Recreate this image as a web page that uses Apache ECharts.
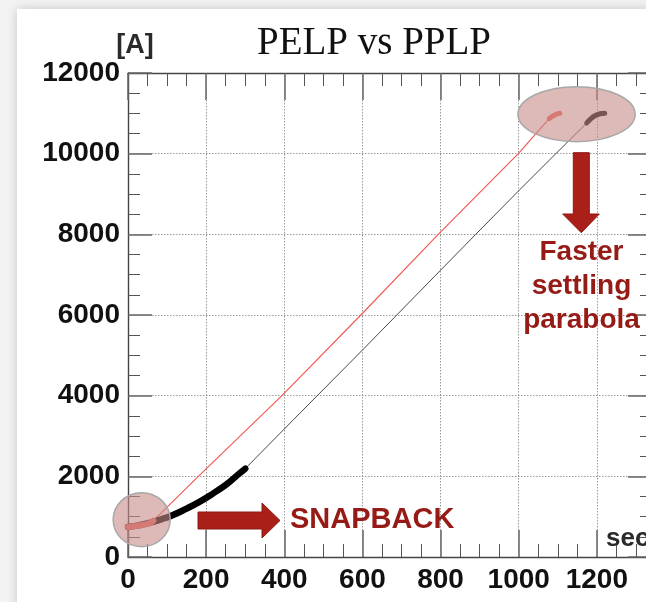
<!DOCTYPE html>
<html>
<head>
<meta charset="utf-8">
<script src="https://cdn.jsdelivr.net/npm/echarts@6/dist/echarts.min.js"></script>
<style>
html,body{margin:0;padding:0;background:#f3f3f3;}
#c{width:646px;height:602px;}
</style>
</head>
<body>
<div id="c"></div>
<script>
// ---- data (x = sec, y = A) ----
const xTicks = [0, 200, 400, 600, 800, 1000, 1200];
const yTicks = [0, 2000, 4000, 6000, 8000, 10000, 12000];

// PPLP (black): thick snapback curve, thin ramp, thick settling parabola
const blackStart = [[0,745],[30,790],[57,850],[85,935],[108,1010],[150,1200],[185,1380],[220,1590],[252,1800],[280,2030],[300,2190]];
const blackRamp  = [[300,2190],[423,3400],[600,5130],[800,7110],[890,8000],[1000,9080],[1094,9990],[1174,10760]];
const blackEnd   = [[1174,10760],[1185,10870],[1195,10940],[1208,10990],[1220,11005]];

// PELP (red): thick start, thin ramp, thick end
const redStart = [[0,745],[20,770],[40,800],[55,840],[65,900]];
const redRamp  = [[65,900],[180,2000],[394,4000],[596,6000],[794,8000],[999,10000],[1078,10870]];
const redEnd   = [[1078,10870],[1092,10960],[1105,11000]];

// annotation ellipses (data units: center x, center y, half-width, half-height)
const snapEllipse  = [35, 925, 73, 670];
const settleEllipse = [1148, 10979, 150, 682];

const FONT = '"Liberation Sans", Arial, Helvetica, sans-serif';
const chart = echarts.init(document.getElementById('c'), null, {renderer: 'canvas'});

const labelStyle = {fontSize: 28, fontWeight: 'bold', fontFamily: FONT, color: '#111'};
const majorTick = {color: '#666', width: 1.5};
const minorTickStyle = {color: '#555', width: 1};
const axisLineStyle = {color: '#444', width: 1.4};
const gridStyle = {type: [1.5, 1.5], color: '#9a9a9a', width: 1};

function line(data, color, width, smooth, z) {
  return {
    type: 'line', data: data, showSymbol: false, smooth: smooth, z: z,
    lineStyle: {color: color, width: width, cap: 'round', join: 'round'},
    silent: true, animation: false
  };
}

const option = {
  backgroundColor: '#f3f3f3',
  animation: false,
  grid: {left: 128, top: 73, right: -29, bottom: 45, containLabel: false, outerBoundsMode: 'none'},
  xAxis: [
    {
      type: 'value', position: 'bottom', min: 0, max: 1400, interval: 200,
      axisLine: {show: true, onZero: false, lineStyle: axisLineStyle},
      axisTick: {show: true, inside: true, length: 27, lineStyle: majorTick},
      minorTick: {show: true, splitNumber: 4, length: 13, lineStyle: minorTickStyle},
      splitLine: {show: true, lineStyle: gridStyle},
      axisLabel: Object.assign({margin: 9, lineHeight: 28,
        formatter: v => (xTicks.indexOf(v) >= 0 ? String(v) : '')}, labelStyle)
    },
    {
      type: 'value', position: 'top', min: 0, max: 1400, interval: 200,
      axisLine: {show: true, onZero: false, lineStyle: axisLineStyle},
      axisTick: {show: true, inside: true, length: 27, lineStyle: majorTick},
      minorTick: {show: true, splitNumber: 4, length: 13, lineStyle: minorTickStyle},
      splitLine: {show: false}, axisLabel: {show: false}
    }
  ],
  yAxis: [
    {
      type: 'value', position: 'left', min: 0, max: 12000, interval: 2000,
      axisLine: {show: true, onZero: false, lineStyle: axisLineStyle},
      axisTick: {show: true, inside: true, length: 24, lineStyle: majorTick},
      minorTick: {show: true, splitNumber: 4, length: 12, lineStyle: minorTickStyle},
      splitLine: {show: true, lineStyle: gridStyle},
      axisLabel: Object.assign({margin: 8,
        formatter: v => (yTicks.indexOf(v) >= 0 ? String(v) : '')}, labelStyle)
    },
    {
      type: 'value', position: 'right', offset: -23, min: 0, max: 12000, interval: 2000,
      axisLine: {show: true, onZero: false, lineStyle: axisLineStyle},
      axisTick: {show: true, inside: true, length: 24, lineStyle: majorTick},
      minorTick: {show: true, splitNumber: 4, length: 12, lineStyle: minorTickStyle},
      splitLine: {show: false}, axisLabel: {show: false}
    }
  ],
  series: [
    line(blackRamp, '#4a4a4a', 1, false, 2),
    line(redRamp, '#f2554f', 1.1, false, 3),
    line(blackStart, '#000', 6.5, true, 4),
    line(redStart, '#e8645c', 6, true, 5),
    line(blackEnd, '#000', 5, true, 4),
    line(redEnd, '#f0605a', 5, true, 5)
  ]
};
chart.setOption(option);

function px(x, y) { return chart.convertToPixel({xAxisIndex: 0, yAxisIndex: 0}, [x, y]); }
function ellipse(e) {
  const c = px(e[0], e[1]);
  const r = px(e[0] + e[2], e[1] + e[3]);
  return {
    type: 'ellipse', z: 100, silent: true,
    shape: {cx: c[0], cy: c[1], rx: Math.abs(r[0] - c[0]), ry: Math.abs(r[1] - c[1])},
    style: {fill: 'rgba(198,138,135,0.6)', stroke: '#a8a8a8', lineWidth: 1.5}
  };
}

const RED = '#aa2019', RED_EDGE = '#8a1812', TXT = '#961b16';
chart.setOption({
  graphic: [
    // card
    {type: 'rect', z: -10, silent: true, shape: {x: 17, y: 9, width: 660, height: 620},
     style: {fill: '#fff', shadowBlur: 10, shadowColor: 'rgba(0,0,0,0.18)'}},
    // title
    {type: 'text', z: 50, silent: true, style: {text: 'PELP vs PPLP', x: 374, y: 44,
      align: 'center', verticalAlign: 'middle', fill: '#111',
      font: '39px "Liberation Serif", "Times New Roman", serif'}},
    {type: 'text', z: 50, silent: true, style: {text: '[A]', x: 135, y: 46,
      align: 'center', verticalAlign: 'middle', fill: '#2a2a2a',
      font: 'bold 27px ' + FONT}},
    // sec
    {type: 'text', z: 50, silent: true, style: {text: 'sec', x: 606, y: 539,
      align: 'left', verticalAlign: 'middle', fill: '#2a2a2a', font: 'bold 26px ' + FONT}},
    // ellipses
    ellipse(snapEllipse),
    ellipse(settleEllipse),
    // right arrow
    {type: 'polygon', z: 60, silent: true,
     shape: {points: [[198,512],[262,512],[262,503],[280,520.5],[262,538],[262,529],[198,529]]},
     style: {fill: RED, stroke: RED_EDGE, lineWidth: 1}},
    {type: 'text', z: 60, silent: true, style: {text: 'SNAPBACK', x: 290, y: 520,
      align: 'left', verticalAlign: 'middle', fill: TXT, font: 'bold 29px ' + FONT}},
    // down arrow
    {type: 'polygon', z: 60, silent: true,
     shape: {points: [[573.3,152.7],[589.3,152.7],[589.3,214],[599.3,214],[581.3,232.7],[562.7,214],[573.3,214]]},
     style: {fill: RED, stroke: RED_EDGE, lineWidth: 1}},
    {type: 'text', z: 60, silent: true, style: {text: 'Faster', x: 581.5, y: 252.5,
      align: 'center', verticalAlign: 'middle', fill: TXT, font: 'bold 28px ' + FONT}},
    {type: 'text', z: 60, silent: true, style: {text: 'settling', x: 581.5, y: 286.5,
      align: 'center', verticalAlign: 'middle', fill: TXT, font: 'bold 28px ' + FONT}},
    {type: 'text', z: 60, silent: true, style: {text: 'parabola', x: 581.5, y: 320,
      align: 'center', verticalAlign: 'middle', fill: TXT, font: 'bold 28px ' + FONT}}
  ]
});
</script>
</body>
</html>
